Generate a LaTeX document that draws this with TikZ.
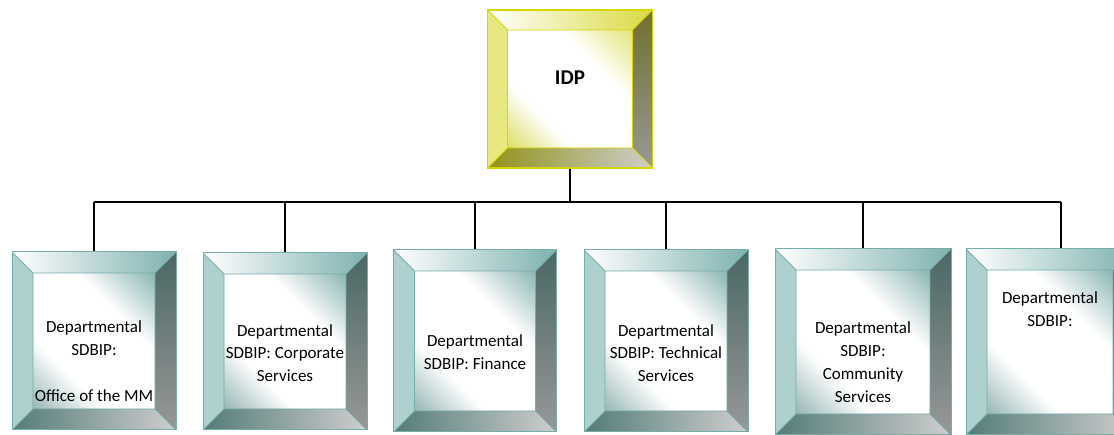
\documentclass[tikz,border=0pt]{standalone}
\usepackage{fontspec}
\setmainfont{Carlito}
\usepackage{tikz}
\usetikzlibrary{positioning, calc}
% teal palette for the department boxes
\definecolor{sdbface}{RGB}{126,166,164}
\definecolor{sdbfacehi}{RGB}{114,166,164}
\definecolor{sdbtop}{RGB}{126,178,176}
\definecolor{sdbleft}{RGB}{174,208,206}
\definecolor{sdbrtop}{RGB}{74,104,100}
\definecolor{sdbrbot}{RGB}{152,152,152}
\definecolor{sdbbleft}{RGB}{84,124,120}
\definecolor{sdbbright}{RGB}{206,206,206}
\definecolor{sdbline}{RGB}{118,172,170}
% yellow palette for the IDP box
\definecolor{idpface}{RGB}{214,214,64}
\definecolor{idpfacehi}{RGB}{224,224,96}
\definecolor{idptop}{RGB}{218,218,66}
\definecolor{idpleft}{RGB}{232,232,128}
\definecolor{idprtop}{RGB}{112,112,44}
\definecolor{idprbot}{RGB}{152,152,152}
\definecolor{idpbleft}{RGB}{146,146,26}
\definecolor{idpbright}{RGB}{206,206,206}
\definecolor{idpline}{RGB}{214,214,0}
\definecolor{busblack}{RGB}{0,0,0}

\pgfdeclarehorizontalshading{sdbfaceshade}{100bp}{color(0bp)=(sdbface); color(10bp)=(sdbface);
  color(34bp)=(white); color(64bp)=(white); color(90bp)=(sdbfacehi); color(100bp)=(sdbfacehi)}
\pgfdeclarehorizontalshading{idpfaceshade}{100bp}{color(0bp)=(idpface); color(10bp)=(idpface);
  color(34bp)=(white); color(64bp)=(white); color(90bp)=(idpfacehi); color(100bp)=(idpfacehi)}

% bevelled frame inside a node: #1 palette, #2 bevel depth
\newcommand{\bevelfill}[2]{%
  \coordinate (pNW) at (path picture bounding box.north west);
  \coordinate (pNE) at (path picture bounding box.north east);
  \coordinate (pSW) at (path picture bounding box.south west);
  \coordinate (pSE) at (path picture bounding box.south east);
  \coordinate (qNW) at ($(pNW)+(#2,-#2)$);
  \coordinate (qNE) at ($(pNE)+(-#2,-#2)$);
  \coordinate (qSW) at ($(pSW)+(#2,#2)$);
  \coordinate (qSE) at ($(pSE)+(-#2,#2)$);
  \shade[shading=#1faceshade, shading angle=45] (qNW) rectangle (qSE);
  \shade[left color=white, right color=#1top] (pNW) -- (pNE) -- (qNE) -- (qNW) -- cycle;
  \shade[top color=#1rtop, bottom color=#1rbot] (pNE) -- (pSE) -- (qSE) -- (qNE) -- cycle;
  \shade[left color=#1bleft, right color=#1bright] (pSW) -- (pSE) -- (qSE) -- (qSW) -- cycle;
  \fill[#1left] (pNW) -- (pSW) -- (qSW) -- (qNW) -- cycle;
  \draw[#1line, line width=0.8pt] (qNW) rectangle (qSE)
    (pNW) -- (qNW) (pNE) -- (qNE) (pSW) -- (qSW) (pSE) -- (qSE);
}

\tikzset{
  bevelbox/.style={rectangle, inner sep=0pt, line width=1pt},
  sdbbox/.style={bevelbox, draw=sdbline, path picture={\bevelfill{sdb}{21}}},
  idpbox/.style={bevelbox, draw=idpline, line width=1.4pt,
    path picture={\bevelfill{idp}{20}}},
  sdblabel/.style={align=center, inner sep=0pt, font=\fontsize{17}{22.8}\selectfont},
  idplabel/.style={inner sep=0pt, font=\fontsize{21}{25}\selectfont\bfseries},
  conn/.style={line width=1.8pt, color=busblack},
}

\begin{document}
\begin{tikzpicture}[x=1pt, y=1pt]
  \useasboundingbox (0,0) rectangle (1114,435);

  \node[idpbox, minimum width=165, minimum height=158] (idp) at (570,346) {};
  \node[idplabel] (idptext) at ([yshift=11]idp.center) {IDP};

  \node[sdbbox, minimum width=164, minimum height=178] (b1) at (94,94) {};
  \node[sdbbox, minimum width=164, minimum height=177] (b2) at (285,93.5) {};
  \node[sdbbox, minimum width=163, minimum height=182] (b3) at (475,94) {};
  \node[sdbbox, minimum width=164, minimum height=182] (b4) at (666,94) {};
  \node[sdbbox, minimum width=176, minimum height=186] (b5) at (863,93) {};
  \node[sdbbox, minimum width=168, minimum height=186] (b6) at (1050,93) {};

  \node[sdblabel] (t1) at ([yshift=-20]b1.center)
    {Departmental\\SDBIP:\\\mbox{}\\Office of the MM};
  \node[sdblabel] (t2) at ([yshift=-11.5]b2.center)
    {Departmental\\SDBIP: Corporate\\Services};
  \node[sdblabel] (t3) at ([yshift=-11]b3.center)
    {Departmental\\SDBIP: Finance};
  \node[sdblabel] (t4) at ([yshift=-12]b4.center)
    {Departmental\\SDBIP: Technical\\Services};
  \node[sdblabel] (t5) at ([yshift=-20]b5.center)
    {Departmental\\SDBIP:\\Community\\Services};
  \node[sdblabel] (t6) at ([yshift=32.5]b6.center)
    {Departmental\\SDBIP:};

  % tree lines
  \coordinate (bus) at (0,233);
  \coordinate (b6top) at ([xshift=11]b6.north);
  \draw[conn] (idp.south) -- (idp.south |- bus);
  \draw[conn] (b1.north |- bus) -- (b6top |- bus);
  \foreach \b in {b1,b2,b3,b4,b5}
    \draw[conn] (\b.north |- bus) -- (\b.north);
  \draw[conn] (b6top |- bus) -- (b6top);
\end{tikzpicture}
\end{document}
